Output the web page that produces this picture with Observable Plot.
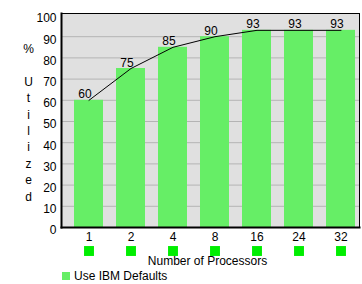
<!DOCTYPE html>
<html>
<head>
<meta charset="utf-8">
<script src="https://cdn.jsdelivr.net/npm/d3@7"></script>
<script src="https://cdn.jsdelivr.net/npm/@observablehq/plot@0.6"></script>
<style>
  html, body { margin: 0; padding: 0; background: #fff; }
  body { width: 362px; height: 284px; overflow: hidden; font-family: "Liberation Sans", Arial, sans-serif; }
  #legend { position: relative; height: 14px; font-size: 12px; color: #000; }
  #legend .sw { position: absolute; left: 62px; top: 2px; width: 8px; height: 8px; background: #66ee66; }
  #legend .lb { position: absolute; left: 74px; top: -1px; }
</style>
</head>
<body>
<div id="chart"></div>
<div id="legend"><span class="sw"></span><span class="lb">Use IBM Defaults</span></div>
<script>
const processors = ["1", "2", "4", "8", "16", "24", "32"];
const utilized = [60, 75, 85, 90, 93, 93, 93];
const yTicks = [0, 10, 20, 30, 40, 50, 60, 70, 80, 90, 100];
const seriesName = "Use IBM Defaults";
const xTitle = "Number of Processors";
const yTitle = "%\n\nU\nt\ni\nl\ni\nz\ne\nd";

const data = processors.map((p, i) => ({proc: p, value: utilized[i]}));

const chart = Plot.plot({
  width: 362,
  height: 270,
  marginLeft: 61,
  marginRight: 3,
  marginTop: 13,
  marginBottom: 43,
  style: {fontFamily: "'Liberation Sans', Arial, sans-serif", fontSize: "12px", background: "#fff", color: "#000"},
  x: {domain: processors, range: [59.8, 368.6], padding: 0.31, axis: null},
  y: {domain: [0, 100], range: [227, 15], axis: null},
  marks: [
    Plot.frame({fill: "#e0e0e0", stroke: null}),
    Plot.gridY(yTicks.filter(d => d > 0 && d < 100), {stroke: "#b4b4b4", strokeOpacity: 1}),
    Plot.barY(data, {x: "proc", y: "value", fill: "#66ee66"}),
    Plot.line(data, {x: "proc", y: "value", stroke: "#000", strokeWidth: 1}),
    Plot.text(data, {x: "proc", y: "value", text: d => String(d.value), dx: -4, dy: -2, lineAnchor: "bottom", fontSize: 12, fill: "#000"}),
    Plot.frame({stroke: "#000", strokeWidth: 1}),
    Plot.frame({anchor: "left", stroke: "#000", strokeWidth: 2}),
    Plot.frame({anchor: "bottom", stroke: "#000", strokeWidth: 2}),
    Plot.axisY(yTicks, {tickSize: 0, tickPadding: 5, fontSize: 12, label: null, dy: 3, fill: "#000"}),
    Plot.axisX({tickSize: 0, tickPadding: 5, fontSize: 12, label: null, fill: "#000"}),
    Plot.dot(data, {x: "proc", frameAnchor: "bottom", dy: 23.5, symbol: "square", r: 5.6, fill: "#00ee00", stroke: null}),
    Plot.text([xTitle], {frameAnchor: "bottom", dx: -3, dy: 37, fontSize: 12, fill: "#000"}),
    Plot.text([yTitle], {frameAnchor: "left", dx: -33, dy: 1, lineHeight: 1.37, fontSize: 12, textAnchor: "middle", fill: "#000"})
  ]
});
document.getElementById("chart").appendChild(chart);
</script>
</body>
</html>
